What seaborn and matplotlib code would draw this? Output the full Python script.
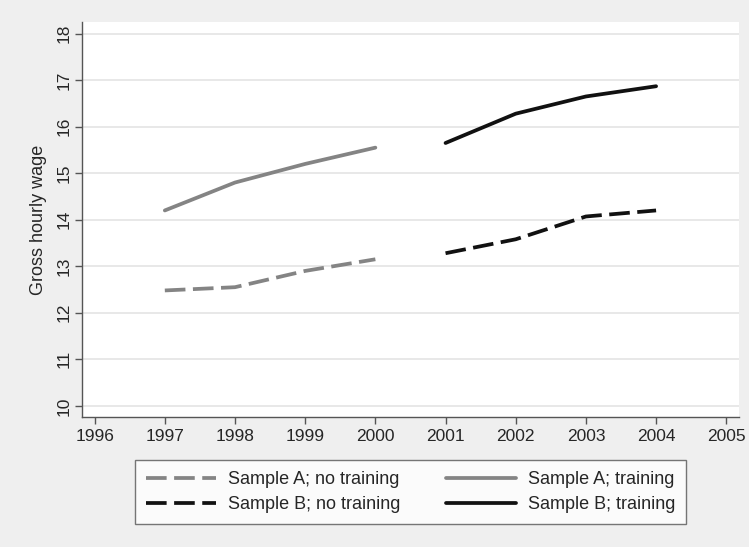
import matplotlib
matplotlib.use("Agg")
import matplotlib.pyplot as plt
import seaborn as sns
import pandas as pd

years_a = [1997, 1998, 1999, 2000]
years_b = [2001, 2002, 2003, 2004]
a_no_training = [12.48, 12.55, 12.90, 13.15]
a_training = [14.20, 14.80, 15.20, 15.55]
b_no_training = [13.28, 13.58, 14.07, 14.20]
b_training = [15.65, 16.28, 16.65, 16.87]

series_names = ["Sample A; no training", "Sample A; training",
                "Sample B; no training", "Sample B; training"]
x_ticks = list(range(1996, 2006))
y_ticks = list(range(10, 19))

frames = []
for name, yrs, vals in [
    (series_names[0], years_a, a_no_training),
    (series_names[1], years_a, a_training),
    (series_names[2], years_b, b_no_training),
    (series_names[3], years_b, b_training),
]:
    frames.append(pd.DataFrame({"year": yrs, "wage": vals, "series": name}))
df = pd.concat(frames, ignore_index=True)

sns.set_style("white")
plt.rcParams["font.family"] = ["Liberation Sans", "DejaVu Sans"]

fig = plt.figure(figsize=(7.49, 5.47), dpi=100, facecolor="#efefef")
ax = fig.add_axes([0.1095, 0.2377, 0.877, 0.722])
ax.set_facecolor("white")

palette = {series_names[0]: "#848484", series_names[1]: "#848484",
           series_names[2]: "#111111", series_names[3]: "#111111"}
dashes = {series_names[0]: (5.5, 2), series_names[1]: "",
          series_names[2]: (5.5, 2), series_names[3]: ""}

sns.lineplot(data=df, x="year", y="wage", hue="series", style="series",
             palette=palette, dashes=dashes, hue_order=series_names,
             style_order=series_names, linewidth=2.7, ax=ax, legend=True)

ax.set_xlim(1995.82, 2005.18)
ax.set_ylim(9.76, 18.25)
ax.set_xticks(x_ticks)
ax.set_yticks(y_ticks)
ax.set_xticklabels([str(x) for x in x_ticks], fontsize=12.5)
ax.set_yticklabels([str(y) for y in y_ticks], fontsize=12.5, rotation=90, va="center")
ax.yaxis.grid(True, color="#e6e6e6", linewidth=1.3)
ax.set_axisbelow(True)
ax.tick_params(axis="both", which="both", direction="out", length=5,
               width=1, color="#555555", left=True, bottom=True)
ax.tick_params(axis="x", pad=4)
ax.tick_params(axis="y", pad=2.5)
ax.set_xlabel("")
ax.set_ylabel("Gross hourly wage", fontsize=13, labelpad=7)

for side in ["top", "right"]:
    ax.spines[side].set_visible(False)
for side in ["left", "bottom"]:
    ax.spines[side].set_color("#555555")
    ax.spines[side].set_linewidth(1)

handles, labels = ax.get_legend_handles_labels()
ax.get_legend().remove()
order = [0, 2, 1, 3]
leg = fig.legend([handles[i] for i in order], [labels[i] for i in order],
                 ncol=2, loc="center", bbox_to_anchor=(0.548, 0.1005),
                 fontsize=13, frameon=True, fancybox=False, handlelength=3.9,
                 columnspacing=2.5, handletextpad=0.65, borderpad=0.6,
                 labelspacing=0.45)
leg.get_frame().set_edgecolor("#555555")
leg.get_frame().set_facecolor("white")
leg.get_frame().set_linewidth(1)

fig.savefig("out.png", dpi=100, facecolor=fig.get_facecolor())
